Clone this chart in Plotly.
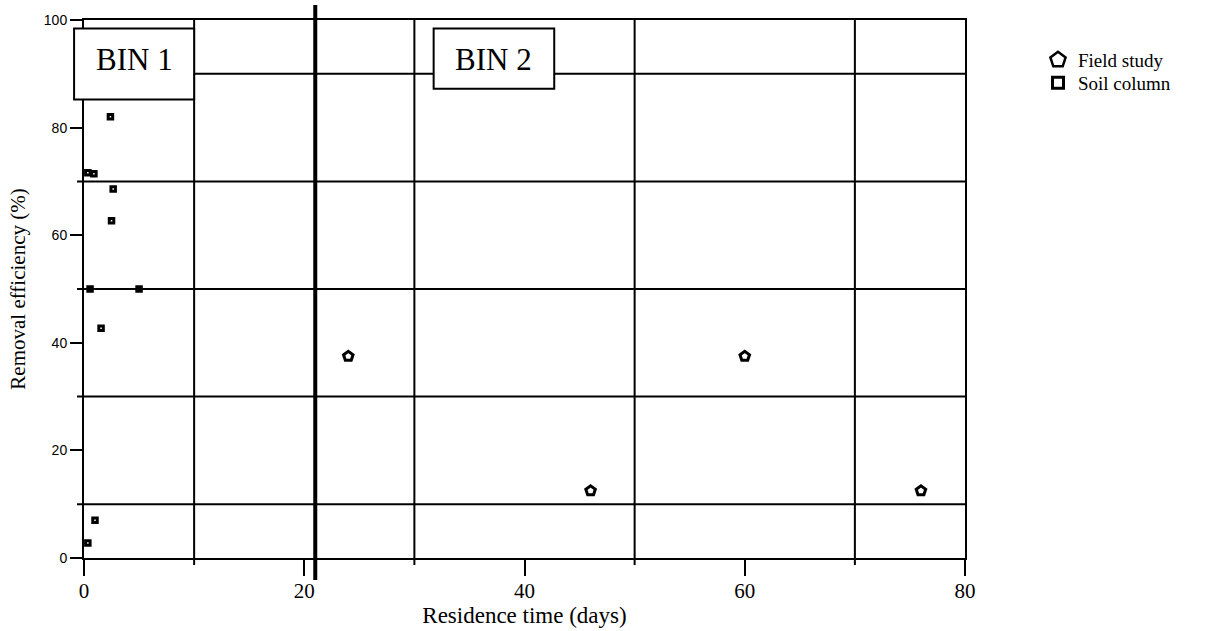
import plotly.graph_objects as go

# Residence time (days) and removal efficiency (%) per data source
field_days = [24, 46, 60, 76]
field_removal = [37.5, 12.5, 37.5, 12.5]

soil_days = [2.4, 0.35, 0.9, 2.65, 2.5, 0.55, 5.0, 1.55, 1.0, 0.35]
soil_removal = [82.0, 71.6, 71.4, 68.6, 62.7, 50.0, 50.0, 42.7, 7.0, 2.8]

x_ticks = [0, 20, 40, 60, 80]
y_ticks = [0, 20, 40, 60, 80, 100]
x_grid = [10, 30, 50, 70]
y_grid = [10, 30, 50, 70, 90]
bin_boundary = 21

X_RANGE = [0, 80]
Y_RANGE = [0, 100]

# Figure geometry
W, H = 1222, 631
M_L, M_R, M_T, M_B = 84, 257, 20, 73
PLOT_W = W - M_L - M_R
PLOT_H = H - M_T - M_B

SERIF = "Liberation Serif, Times New Roman, serif"
SANS = "Liberation Sans, Arial, sans-serif"
INK = "black"


def fx(v):
    """Data x value -> fraction of the x-axis domain."""
    return (v - X_RANGE[0]) / (X_RANGE[1] - X_RANGE[0])


fig = go.Figure()

fig.add_trace(go.Scatter(
    x=field_days, y=field_removal, mode="markers", name="Field study",
    showlegend=False,
    marker=dict(symbol="pentagon-open", size=10, color=INK,
                line=dict(color=INK, width=3)),
))
fig.add_trace(go.Scatter(
    x=soil_days, y=soil_removal, mode="markers", name="Soil column",
    showlegend=False,
    marker=dict(symbol="square-open", size=4.5, color=INK,
                line=dict(color=INK, width=3)),
))

# Legend entries with larger key symbols, one legend per row
fig.add_trace(go.Scatter(
    x=[None], y=[None], mode="markers", name="Field study", legend="legend",
    marker=dict(symbol="pentagon-open", size=16, color=INK,
                line=dict(color=INK, width=2.5)),
))
fig.add_trace(go.Scatter(
    x=[None], y=[None], mode="markers", name="Soil column", legend="legend2",
    marker=dict(symbol="square-open", size=11, color=INK,
                line=dict(color=INK, width=3)),
))

shapes = []
# Horizontal grid lines, running slightly past the y axis
for g in y_grid:
    shapes.append(dict(type="line", layer="below", xref="x domain", yref="y",
                       x0=-7 / PLOT_W, x1=1, y0=g, y1=g,
                       line=dict(color=INK, width=2)))
# Vertical grid lines, running slightly below the x axis
for g in x_grid:
    shapes.append(dict(type="line", layer="below", xref="x", yref="paper",
                       x0=g, x1=g, y0=-7 / PLOT_H, y1=1,
                       line=dict(color=INK, width=2)))
# Boundary between the two residence-time bins
shapes.append(dict(type="line", layer="below", xref="x", yref="paper",
                   x0=bin_boundary, x1=bin_boundary,
                   y0=-22 / PLOT_H, y1=1 + 15 / PLOT_H,
                   line=dict(color=INK, width=4)))
# Bin label boxes
bin_boxes = [
    ("BIN 1", -0.9, 10.0, 85.2, 98.4),
    ("BIN 2", 31.75, 42.7, 87.2, 98.4),
]
annotations = []
for label, bx0, bx1, by0, by1 in bin_boxes:
    shapes.append(dict(type="rect", layer="above", xref="x domain", yref="y",
                       x0=fx(bx0), x1=fx(bx1), y0=by0, y1=by1,
                       fillcolor="white", line=dict(color=INK, width=2)))
    annotations.append(dict(text=label, xref="x", yref="y",
                            x=(bx0 + bx1) / 2, y=92.6, showarrow=False,
                            font=dict(family=SERIF, size=31, color=INK)))

legend_common = dict(
    xref="paper", yref="paper", x=(1038 - M_L) / PLOT_W,
    xanchor="left", yanchor="middle", bgcolor="rgba(0,0,0,0)",
    borderwidth=0, font=dict(family=SERIF, size=19, color=INK),
    itemsizing="trace",
)

fig.update_layout(
    width=W, height=H,
    margin=dict(l=M_L, r=M_R, t=M_T, b=M_B, pad=0, autoexpand=False),
    paper_bgcolor="white", plot_bgcolor="white",
    shapes=shapes, annotations=annotations,
    legend=dict(y=(H - M_B - 60) / PLOT_H, **legend_common),
    legend2=dict(y=(H - M_B - 83) / PLOT_H, **legend_common),
    xaxis=dict(
        range=X_RANGE, tickvals=x_ticks, ticktext=[str(v) for v in x_ticks],
        showgrid=False, zeroline=False, automargin=False,
        showline=True, linecolor=INK, linewidth=2, mirror=True,
        ticks="outside", ticklen=16, tickwidth=2, tickcolor=INK,
        ticklabelstandoff=-3,
        tickfont=dict(family=SERIF, size=21, color=INK),
        title=dict(text="Residence time (days)", standoff=3,
                   font=dict(family=SERIF, size=23, color=INK)),
    ),
    yaxis=dict(
        range=Y_RANGE, tickvals=y_ticks, ticktext=[str(v) for v in y_ticks],
        showgrid=False, zeroline=False, automargin=False,
        showline=True, linecolor=INK, linewidth=2, mirror=True,
        ticks="outside", ticklen=12, tickwidth=2, tickcolor=INK,
        tickfont=dict(family=SANS, size=14, color=INK),
        title=dict(text="Removal efficiency (%)", standoff=12,
                   font=dict(family=SERIF, size=21, color=INK)),
    ),
)

fig.write_html("out.html")
